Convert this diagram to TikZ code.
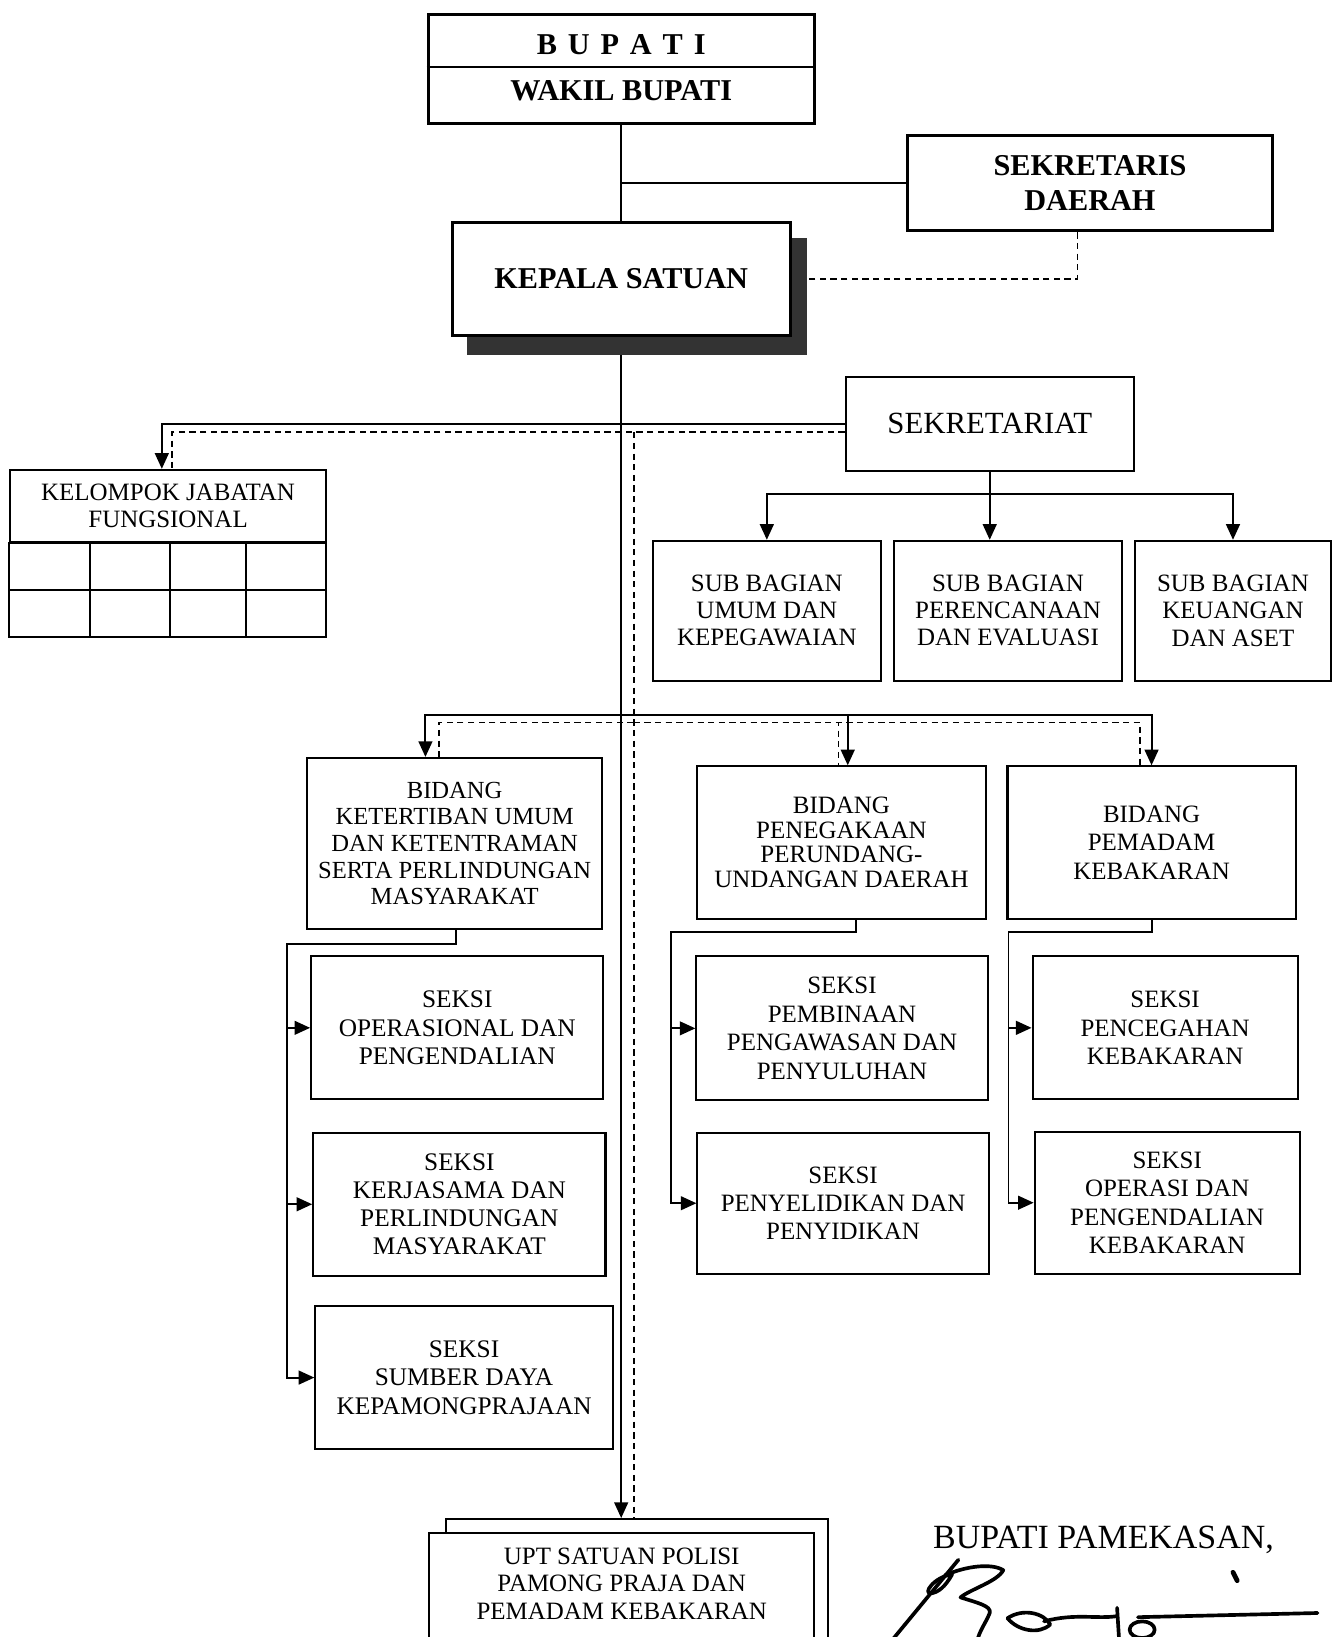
\documentclass[tikz,border=0pt]{standalone}
\usepackage{fontspec}
\setmainfont{Liberation Serif}
\usetikzlibrary{arrows.meta,calc}
\begin{document}
\begin{tikzpicture}[x=0.02cm,y=-0.02cm,
  box/.style={draw,line width=1.1pt,fill=white,inner sep=0pt,align=center,font=\fontsize{13.6}{15.2}\selectfont},
  topbox/.style={box,line width=1.7pt},
  txt/.style={inner sep=0pt,align=center},
  con/.style={line width=1.05pt},
  arr/.style={con,-{Triangle[length=8.5pt,width=7.5pt]}},
  dsh/.style={line width=0.9pt,dash pattern=on 3.4pt off 2.4pt},
  sig/.style={line width=2pt,line cap=round,line join=round},
  bf/.style={font=\bfseries\fontsize{16.5}{18.2}\selectfont}
]
\useasboundingbox (0,0) rectangle (1277,1568);
\clip (0,0) rectangle (1277,1568);
\fill[white] (0,0) rectangle (1277,1568);

% ---------- top ----------
\node[topbox, minimum width=7.4cm, minimum height=2.08cm] (bupati) at (595,66) {};
\draw[line width=1.2pt] (bupati.west |- 0,64) -- (bupati.east |- 0,64);
\node[txt, bf] (bupati1) at (595,43) {B\hspace{0.36em}U\hspace{0.36em}P\hspace{0.36em}A\hspace{0.36em}T\hspace{0.36em}I};
\node[txt, bf] (wakil) at (595,87) {WAKIL BUPATI};

\node[topbox, minimum width=7cm, minimum height=1.82cm, bf] (sekda) at (1044,175.5) {SEKRETARIS\\[1pt]DAERAH};

\node[fill=black!80, inner sep=0pt, minimum width=6.52cm, minimum height=2.24cm] (kssh) at (610,284) {};
\node[topbox, minimum width=6.48cm, minimum height=2.16cm, bf] (ks) at (595,267) {KEPALA SATUAN};

% ---------- sekretariat ----------
\node[box, minimum width=5.52cm, minimum height=1.8cm, font=\fontsize{16.8}{18}\selectfont] (sekr) at (948,406) {SEKRETARIAT};

\node[box, minimum width=4.38cm, minimum height=2.68cm, font=\fontsize{13.6}{14.8}\selectfont] (sb1) at (734.5,585) {SUB BAGIAN\\UMUM DAN\\KEPEGAWAIAN};
\node[box, minimum width=4.38cm, minimum height=2.68cm, font=\fontsize{13.6}{14.8}\selectfont] (sb2) at (965.5,585) {SUB BAGIAN\\PERENCANAAN\\DAN EVALUASI};
\node[box, minimum width=3.76cm, minimum height=2.68cm, font=\fontsize{13.6}{14.8}\selectfont] (sb3) at (1181,585) {SUB BAGIAN\\KEUANGAN\\DAN ASET};

% ---------- kelompok jabatan fungsional ----------
\node[box, minimum width=6.04cm, minimum height=1.38cm, font=\fontsize{13.6}{14.8}\selectfont] (kjf) at (161,484.5) {KELOMPOK JABATAN\\FUNGSIONAL};
\draw[line width=1.1pt] (kjf.south west) rectangle (312,610);
\draw[line width=1.1pt] (10,565) -- (312,565);
\foreach \x in {86,163,236} \draw[line width=1.1pt] (\x,519.5) -- (\x,610);

% ---------- bidang ----------
\node[box, minimum width=5.66cm, minimum height=3.28cm, font=\fontsize{13.4}{14.5}\selectfont] (b1) at (435.5,808) {BIDANG\\KETERTIBAN UMUM\\DAN KETENTRAMAN\\SERTA PERLINDUNGAN\\MASYARAKAT};
\node[box, minimum width=5.52cm, minimum height=2.92cm, font=\fontsize{13.6}{13.4}\selectfont] (b2) at (806,807) {BIDANG\\PENEGAKAAN\\PERUNDANG-\\UNDANGAN DAERAH};
\node[box, minimum width=5.52cm, minimum height=2.92cm, font=\fontsize{13.6}{15.6}\selectfont] (b3) at (1103,807) {BIDANG\\PEMADAM\\KEBAKARAN};

% ---------- seksi ----------
\node[box, minimum width=5.6cm, minimum height=2.74cm, font=\fontsize{13.8}{15.6}\selectfont] (s1a) at (438,984.5) {SEKSI\\OPERASIONAL DAN\\PENGENDALIAN};
\node[box, minimum width=5.6cm, minimum height=2.74cm, font=\fontsize{13.8}{15.4}\selectfont] (s1b) at (440,1153.5) {SEKSI\\KERJASAMA DAN\\PERLINDUNGAN\\MASYARAKAT};
\node[box, minimum width=5.7cm, minimum height=2.74cm, font=\fontsize{13.8}{15.4}\selectfont] (s1c) at (444.5,1319.5) {SEKSI\\SUMBER DAYA\\KEPAMONGPRAJAAN};

\node[box, minimum width=5.58cm, minimum height=2.76cm, font=\fontsize{13.6}{15.5}\selectfont] (s2a) at (806.5,985) {SEKSI\\PEMBINAAN\\PENGAWASAN DAN\\PENYULUHAN};
\node[box, minimum width=5.58cm, minimum height=2.7cm, font=\fontsize{13.6}{15.5}\selectfont] (s2b) at (807.5,1152.5) {SEKSI\\PENYELIDIKAN DAN\\PENYIDIKAN};

\node[box, minimum width=5.08cm, minimum height=2.74cm, font=\fontsize{13.6}{15.5}\selectfont] (s3a) at (1116,984.5) {SEKSI\\PENCEGAHAN\\KEBAKARAN};
\node[box, minimum width=5.08cm, minimum height=2.72cm, font=\fontsize{13.6}{15.5}\selectfont] (s3b) at (1118,1152) {SEKSI\\OPERASI DAN\\PENGENDALIAN\\KEBAKARAN};

% ---------- UPT ----------
\node[box, minimum width=7.32cm, minimum height=2.8cm] (uptb) at (610,1525) {};
\node[box, minimum width=7.38cm, minimum height=2.6cm] (upt) at (595.5,1533) {};
\node[txt, font=\fontsize{13.6}{15.1}\selectfont] (upttxt) at (595.5,1517) {UPT SATUAN POLISI\\PAMONG PRAJA DAN\\PEMADAM KEBAKARAN};

% ---------- signature ----------
\node[txt, anchor=base, font=\fontsize{18.5}{20}\selectfont] (bp) at (1057,1483) {BUPATI PAMEKASAN,};
\draw[sig] (852,1574) -- (918,1494);
\draw[sig] (912,1508) .. controls (895,1510) and (882,1528) .. (893,1526)
  .. controls (902,1524) and (908,1515) .. (912,1508);
\draw[sig] (905,1509) .. controls (925,1500) and (950,1497) .. (961,1504)
  .. controls (955,1515) and (930,1522) .. (920,1530)
  .. controls (935,1535) and (950,1538) .. (948,1545)
  .. controls (944,1555) and (938,1562) .. (936,1572);
\draw[sig] (965,1550) .. controls (980,1540) and (1000,1545) .. (1006,1556)
  .. controls (995,1566) and (975,1562) .. (965,1550);
\draw[sig] (1000,1553) .. controls (1030,1545) and (1050,1551) .. (1070,1548);
\draw[sig] (1070,1540) -- (1072,1572);
\draw[sig] (1094,1561) ellipse [x radius=12, y radius=8];
\draw[sig] (1090,1549) -- (1262,1545);
\draw[line width=2.6pt,line cap=round] (1181,1506) -- (1185,1514);

% ---------- connectors ----------
\draw[con] (bupati.south) -- (ks.north);
\draw[con] (sekda.west) -- (sekda.west -| bupati.south);
\draw[dsh] ($(sekda.south)+(-12,0)$) |- (kssh.east |- ks.east);

\draw[arr] (kssh.south -| ks.south) -- (uptb.north -| ks.south);
\coordinate (dt) at (607,414);
\draw[dsh] (dt) -- (dt |- uptb.north);

\draw[arr] (sekr.west) -| ($(kjf.north)+(-6,0)$);
\draw[dsh] ($(sekr.west)+(0,8)$) -| ($(kjf.north)+(4,0)$);

\draw[arr] (sekr.south) -- ++(0,21) -| (sb1.north);
\draw[arr] (sekr.south) -- (sb2.north -| sekr.south);
\draw[arr] (sekr.south) -- ++(0,21) -| (sb3.north);

\coordinate (bb) at (595,685);
\draw[arr] (bb) -| ($(b1.north)+(-28,0)$);
\draw[arr] (bb) -| ($(b2.north)+(6,0)$);
\draw[arr] (bb) -| (b3.north);
\coordinate (db) at (607,692);
\draw[dsh] (db) -| ($(b1.north)+(-15,0)$);
\draw[dsh] (db) -| ($(b2.north)+(-3,0)$);
\draw[dsh] (db) -| ($(b3.north)+(-11,0)$);

\coordinate (c1) at (275,904);
\draw[arr] ($(b1.south)+(1.5,0)$) |- (c1) |- (s1c.west);
\draw[arr] (c1 |- s1a.west) -- (s1a.west);
\draw[arr] (c1 |- s1b.west) -- (s1b.west);

\coordinate (c2) at (643,893);
\draw[arr] ($(b2.south)+(14,0)$) |- (c2) |- (s2b.west);
\draw[arr] (c2 |- s2a.west) -- (s2a.west);

\coordinate (c3) at (966,893);
\draw[arr] (b3.south) |- (c3) |- (s3b.west);
\draw[arr] (c3 |- s3a.west) -- (s3a.west);
\end{tikzpicture}
\end{document}
